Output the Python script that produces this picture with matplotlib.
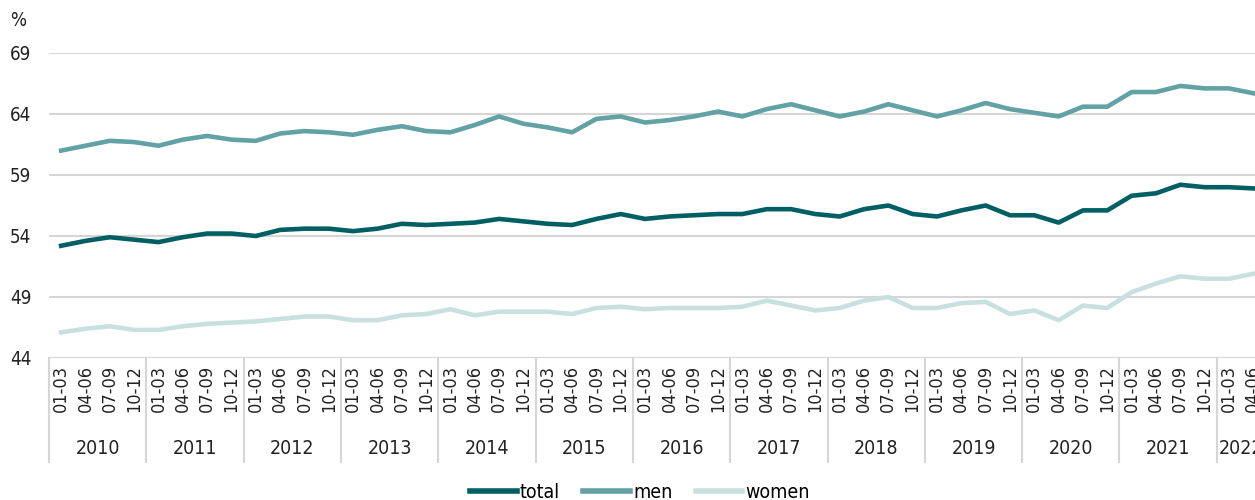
import matplotlib
matplotlib.use("Agg")
import matplotlib.pyplot as plt
import matplotlib.transforms as mtransforms

plt.rcParams['font.family'] = ['DejaVu Sans']
plt.rcParams['font.stretch'] = 'condensed'

years = [str(y) for y in range(2010, 2023)]
quarters = ["01-03", "04-06", "07-09", "10-12"]
quarter_labels = [q for y in years for q in quarters][:50]

total = [53.2, 53.6, 53.9, 53.7, 53.5, 53.9, 54.2, 54.2, 54.0, 54.5,
         54.6, 54.6, 54.4, 54.6, 55.0, 54.9, 55.0, 55.1, 55.4, 55.2,
         55.0, 54.9, 55.4, 55.8, 55.4, 55.6, 55.7, 55.8, 55.8, 56.2,
         56.2, 55.8, 55.6, 56.2, 56.5, 55.8, 55.6, 56.1, 56.5, 55.7,
         55.7, 55.1, 56.1, 56.1, 57.3, 57.5, 58.2, 58.0, 58.0, 57.9]
men = [61.0, 61.4, 61.8, 61.7, 61.4, 61.9, 62.2, 61.9, 61.8, 62.4,
       62.6, 62.5, 62.3, 62.7, 63.0, 62.6, 62.5, 63.1, 63.8, 63.2,
       62.9, 62.5, 63.6, 63.8, 63.3, 63.5, 63.8, 64.2, 63.8, 64.4,
       64.8, 64.3, 63.8, 64.2, 64.8, 64.3, 63.8, 64.3, 64.9, 64.4,
       64.1, 63.8, 64.6, 64.6, 65.8, 65.8, 66.3, 66.1, 66.1, 65.7]
women = [46.1, 46.4, 46.6, 46.3, 46.3, 46.6, 46.8, 46.9, 47.0, 47.2,
         47.4, 47.4, 47.1, 47.1, 47.5, 47.6, 48.0, 47.5, 47.8, 47.8,
         47.8, 47.6, 48.1, 48.2, 48.0, 48.1, 48.1, 48.1, 48.2, 48.7,
         48.3, 47.9, 48.1, 48.7, 49.0, 48.1, 48.1, 48.5, 48.6, 47.6,
         47.9, 47.1, 48.3, 48.1, 49.4, 50.1, 50.7, 50.5, 50.5, 50.9]
y_ticks = [44, 49, 54, 59, 64, 69]

c_total = "#005f63"
c_men = "#62a2a5"
c_women = "#c8e0e0"
c_grid = "#d6d6d6"
c_text = "#222222"

fig = plt.figure(figsize=(12.55, 5), dpi=100)
ax = fig.add_axes([49 / 1255, 1 - 358 / 500, 1 - 49 / 1255, 305 / 500])

x = list(range(len(quarter_labels)))
ax.plot(x, total, color=c_total, lw=3.3, label="total", zorder=3)
ax.plot(x, men, color=c_men, lw=3.3, label="men", zorder=3)
ax.plot(x, women, color=c_women, lw=3.3, label="women", zorder=3)

ax.set_ylim(44, 69)
ax.set_xlim(-0.5, 49.07)
ax.set_yticks(y_ticks)
ax.yaxis.grid(True, color=c_grid, lw=1.5)
ax.set_axisbelow(True)
for s in ax.spines.values():
    s.set_visible(False)

ax.tick_params(axis="y", length=0, pad=28, labelsize=13.5, labelcolor=c_text)
for lbl in ax.get_yticklabels():
    lbl.set_horizontalalignment("left")

ax.set_xticks(x)
ax.set_xticklabels(quarter_labels, rotation=90, fontsize=13, color=c_text)
ax.tick_params(axis="x", length=0, pad=5)

# year boxes below the axis
trans = mtransforms.blended_transform_factory(ax.transData, ax.transAxes)
n = len(quarter_labels)
for i in range(len(years)):
    start = i * 4
    end = min(start + 4, n)
    xb = start - 0.5
    ax.plot([xb, xb], [0, -104 / 305], color=c_grid, lw=1.5, transform=trans, clip_on=False)
    ax.text((start + end - 1) / 2, -90 / 305, years[i], transform=trans, ha="center", va="center",
            fontsize=14, color=c_text)

fig.text(10 / 1255, 1 - 20 / 500, "%", fontsize=13.5, color=c_text, ha="left", va="center")

leg = fig.legend(loc="center", bbox_to_anchor=(640 / 1255, 8 / 500), ncol=3, frameon=False,
                 fontsize=14, handlelength=2.4, handletextpad=0.15, columnspacing=1.2)
for line in leg.get_lines():
    line.set_linewidth(4)

fig.savefig("out.png", dpi=100)
